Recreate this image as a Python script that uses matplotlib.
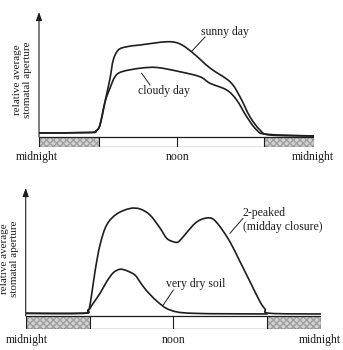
import numpy as np
import matplotlib
matplotlib.use("Agg")
import matplotlib.pyplot as plt
from matplotlib.patches import Rectangle, PathPatch
from matplotlib.path import Path

plt.rcParams["font.family"] = ["Liberation Serif", "DejaVu Serif"]

# -------------------------
# Datos (horas desde medianoche, apertura relativa)
# -------------------------

sunny_h = [0.0, 4.45, 4.97, 5.32, 5.76, 6.20, 6.48, 6.92, 7.65, 8.81, 11.17, 12.31,
           13.44, 14.92, 16.67, 17.54, 18.41, 19.29, 20.16, 24.0]
sunny_y = [0.032, 0.036, 0.048, 0.096, 0.282, 0.470, 0.616, 0.696, 0.722, 0.736, 0.762, 0.744,
           0.672, 0.552, 0.442, 0.322, 0.162, 0.056, 0.016, 0.008]

cloudy_h = [0.0, 4.45, 4.97, 5.32, 5.76, 6.20, 6.63, 7.22, 8.81, 10.30, 12.31, 14.05,
            14.92, 16.38, 17.25, 18.13, 19.00, 19.87, 24.0]
cloudy_y = [0.032, 0.036, 0.048, 0.096, 0.280, 0.392, 0.482, 0.522, 0.550, 0.556, 0.522, 0.482,
            0.430, 0.376, 0.296, 0.162, 0.056, 0.022, 0.008]

twopeak_h = [0.0, 4.66, 5.06, 5.23, 5.63, 6.04, 6.58, 7.40, 8.48, 9.29, 10.10, 10.91, 11.46,
             12.00, 12.38, 12.81, 13.62, 14.17, 14.74, 15.22, 15.79, 16.60, 17.42, 18.23,
             19.04, 19.45, 19.86, 24.0]
twopeak_y = [0.021, 0.021, 0.047, 0.086, 0.346, 0.555, 0.711, 0.797, 0.840, 0.836, 0.789, 0.688,
             0.607, 0.580, 0.578, 0.620, 0.711, 0.750, 0.766, 0.758, 0.698, 0.580, 0.424, 0.268,
             0.112, 0.055, 0.021, 0.016]

drysoil_h = [0.0, 4.66, 5.06, 5.39, 6.04, 6.58, 7.12, 7.66, 8.21, 8.88, 9.29, 9.78, 10.65,
             11.73, 13.60, 19.61]
drysoil_y = [0.021, 0.021, 0.039, 0.086, 0.177, 0.268, 0.338, 0.365, 0.354, 0.320, 0.266, 0.203,
             0.117, 0.047, 0.021, 0.016]

night_end = 5.2      # fin de la noche (mañana)
night_start = 19.6   # inicio de la noche (tarde)
tick_labels = ["midnight", "noon", "midnight"]
tick_hours = [0, 12, 24]
ylabel = "relative average\nstomatal aperture"

INK = "#1e1e1e"
FS = 8.5


def smooth_curve(ax, xs, ys, lw=1.2):
    """Dibuja la curva como trazo Bezier (Catmull-Rom) que pasa por los puntos leídos."""
    p = np.column_stack([xs, ys]).astype(float)
    verts = [p[0]]
    codes = [Path.MOVETO]
    for i in range(len(p) - 1):
        p0 = p[i - 1] if i > 0 else p[i]
        p1, p2 = p[i], p[i + 1]
        p3 = p[i + 2] if i + 2 < len(p) else p[i + 1]
        c1 = p1 + (p2 - p0) / 6.0
        c2 = p2 - (p3 - p1) / 6.0
        verts += [c1, c2, p2]
        codes += [Path.CURVE4] * 3
    ax.add_patch(PathPatch(Path(verts, codes), facecolor="none", edgecolor=INK,
                           lw=lw, joinstyle="round", capstyle="round"))


def day_axes(fig, rect, bar_h, label_y, label_x, ylabel_x):
    ax = fig.add_axes(rect)
    ax.set_xlim(0, 24)
    ax.set_ylim(-bar_h, 1.0)
    ax.axis("off")

    # barra noche / día
    shade = dict(facecolor="#d2d2d2", edgecolor="#a0a0a0", hatch="xxxxx", lw=0)
    ax.add_patch(Rectangle((0, -bar_h), night_end, bar_h, **shade))
    ax.add_patch(Rectangle((night_start, -bar_h), 24 - night_start, bar_h, **shade))
    ax.add_patch(Rectangle((0, -bar_h), 24, bar_h, facecolor="none", edgecolor=INK, lw=0.9))
    ax.plot([night_end, night_end], [-bar_h, 0], color=INK, lw=0.8)
    ax.plot([night_start, night_start], [-bar_h, 0], color=INK, lw=0.8)
    ax.plot([12, 12], [-bar_h, 0], color=INK, lw=0.8)

    # eje vertical con flecha
    ax.annotate("", xy=(0, 1.0), xytext=(0, 0),
                arrowprops=dict(arrowstyle="-|>,head_length=0.5,head_width=0.18",
                                color=INK, lw=0.8, shrinkA=0, shrinkB=0),
                annotation_clip=False)

    for h, lab, dx in zip(tick_hours, tick_labels, label_x):
        ax.text(h + dx, label_y, lab, ha="center", va="center", fontsize=FS,
                color=INK, clip_on=False)

    ax.text(ylabel_x, 0.5, ylabel, rotation=90, ha="center", va="center",
            fontsize=8, color=INK, linespacing=1.15, transform=ax.transAxes,
            clip_on=False)
    return ax


fig = plt.figure(figsize=(3.43, 3.50), dpi=100)

# panel superior
ax1 = day_axes(fig, [39 / 343, 203 / 350, 275 / 343, 135 / 350], 0.08, -0.16,
               [-0.17, 0.1, -0.1], -0.06)
smooth_curve(ax1, sunny_h, sunny_y)
smooth_curve(ax1, cloudy_h, cloudy_y)
ax1.text(16.23, 0.84, "sunny day", ha="center", va="center", fontsize=FS, color=INK)
ax1.plot([13.35, 14.49], [0.688, 0.80], color=INK, lw=0.7)
ax1.text(10.86, 0.37, "cloudy day", ha="center", va="center", fontsize=FS, color=INK)
ax1.plot([8.96, 9.69], [0.51, 0.416], color=INK, lw=0.7)

# panel inferior
ax2 = day_axes(fig, [25.7 / 343, 21 / 350, 295.3 / 343, 141 / 350], 0.1016, -0.1875,
               [0.1, 0.0, -0.1], -0.055)
smooth_curve(ax2, twopeak_h, twopeak_y)
smooth_curve(ax2, drysoil_h, drysoil_y)
ax2.text(17.66, 0.752, "2-peaked\n(midday closure)", ha="left", va="center",
         fontsize=FS, color=INK, linespacing=1.2)
ax2.plot([16.60, 17.66], [0.646, 0.763], color=INK, lw=0.7)
ax2.text(13.84, 0.25, "very dry soil", ha="center", va="center", fontsize=FS, color=INK)
ax2.plot([11.18, 12.0], [0.086, 0.203], color=INK, lw=0.7)

fig.savefig("out.png", dpi=100)
